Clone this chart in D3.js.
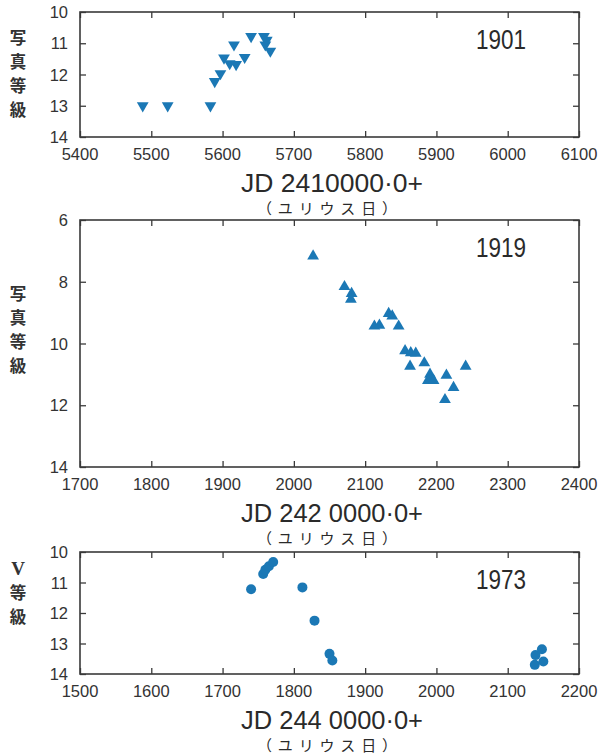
<!DOCTYPE html>
<html><head><meta charset="utf-8">
<script src="https://cdn.jsdelivr.net/npm/d3@7"></script>
<style>
html,body{margin:0;padding:0;background:#fff;}
svg{display:block;}
</style></head>
<body>
<svg id="c" width="598" height="755"></svg>
<script>
// ---- data ----
const jd1901 = [5488,5523,5583,5589,5597,5602,5610,5619,5616,5631,5640,5658,5662,5660,5667];
const mag1901 = [13.0,13.0,13.0,12.22,11.97,11.47,11.65,11.68,11.05,11.45,10.78,10.78,10.9,11.05,11.25];

const jd1919 = [2027,2071,2081,2080,2113,2120,2133,2138,2147,2156,2164,2171,2163,2183,2191,2192,2188,2196,2214,2224,2241,2212];
const mag1919 = [7.17,8.16,8.38,8.57,9.44,9.41,9.03,9.11,9.44,10.24,10.3,10.32,10.74,10.63,11.0,11.17,11.2,11.2,11.03,11.43,10.74,11.82];

const jd1973 = [1740,1757,1760,1765,1771,1812,1829,1850,1854,2139,2148,2138,2150];
const mag1973 = [11.22,10.72,10.58,10.47,10.33,11.16,12.25,13.34,13.56,13.38,13.19,13.7,13.59];

const xTicks1901 = [5400,5500,5600,5700,5800,5900,6000,6100];
const yTicks1901 = [10,11,12,13,14];
const xTicks1919 = [1700,1800,1900,2000,2100,2200,2300,2400];
const yTicks1919 = [6,8,10,12,14];
const xTicks1973 = [1500,1600,1700,1800,1900,2000,2100,2200];
const yTicks1973 = [10,11,12,13,14];

const years = ["1901","1919","1973"];
const xTitles = ["JD 2410000·0+","JD 242 0000·0+","JD 244 0000·0+"];
const xSub = "（ユリウス日）";
const yTitles = [["写","真","等","級"],["写","真","等","級"],["V","等","級"]];

// ---- drawing ----
const svg = d3.select("#c");
const blue = "#1b78b5";
const frameColor = "#3a3a3a";
const txtColor = "#333";

const panels = [
  {jd:jd1901, mag:mag1901, xt:xTicks1901, yt:yTicks1901, top:12, bottom:137, marker:"down", yLabelTop:37},
  {jd:jd1919, mag:mag1919, xt:xTicks1919, yt:yTicks1919, top:220, bottom:467, marker:"up", yLabelTop:293},
  {jd:jd1973, mag:mag1973, xt:xTicks1973, yt:yTicks1973, top:552, bottom:674, marker:"circle", yLabelTop:568}
];
const left = 80, right = 579;

panels.forEach((p, i) => {
  const x = d3.scaleLinear().domain([p.xt[0], p.xt[p.xt.length-1]]).range([left, right]);
  const y = d3.scaleLinear().domain([p.yt[0], p.yt[p.yt.length-1]]).range([p.top, p.bottom]);
  const g = svg.append("g");

  // inward ticks on all sides (no labels), via axes
  const tk = 6;
  g.append("g").attr("transform", `translate(0,${p.bottom})`)
    .call(d3.axisTop(x).tickValues(p.xt).tickSize(tk).tickFormat(""));
  g.append("g").attr("transform", `translate(0,${p.top})`)
    .call(d3.axisBottom(x).tickValues(p.xt).tickSize(tk).tickFormat(""));
  g.append("g").attr("transform", `translate(${left},0)`)
    .call(d3.axisRight(y).tickValues(p.yt).tickSize(tk).tickFormat(""));
  g.append("g").attr("transform", `translate(${right},0)`)
    .call(d3.axisLeft(y).tickValues(p.yt).tickSize(tk).tickFormat(""));
  g.selectAll(".domain").remove();
  g.selectAll(".tick line").attr("stroke", frameColor).attr("stroke-width", 1.3);

  // frame
  g.append("rect").attr("x", left).attr("y", p.top)
    .attr("width", right-left).attr("height", p.bottom-p.top)
    .attr("fill", "none").attr("stroke", frameColor).attr("stroke-width", 1.6);

  // tick labels
  g.selectAll(".xl").data(p.xt).join("text")
    .attr("x", d => x(d)).attr("y", p.bottom + 23)
    .attr("text-anchor", "middle")
    .attr("font-family", "Liberation Sans, Arial, sans-serif")
    .attr("font-size", 16.5).attr("fill", txtColor).text(d => d);
  g.selectAll(".yl").data(p.yt).join("text")
    .attr("x", left - 12).attr("y", d => y(d) + 6)
    .attr("text-anchor", "end")
    .attr("font-family", "Liberation Sans, Arial, sans-serif")
    .attr("font-size", 16.5).attr("fill", txtColor).text(d => d);

  // year label
  g.append("text").attr("x", 501).attr("y", p.top + 37)
    .attr("text-anchor", "middle")
    .attr("font-family", "Liberation Sans, Arial, sans-serif")
    .attr("font-size", 27).attr("fill", "#2a2a2a")
    .attr("textLength", 50).attr("lengthAdjust", "spacingAndGlyphs")
    .text(years[i]);

  // x titles
  const tY = p.bottom + 55;
  g.append("text").attr("x", 332).attr("y", tY)
    .attr("text-anchor", "middle")
    .attr("font-family", "Liberation Sans, Arial, sans-serif")
    .attr("font-size", 25).attr("fill", "#2a2a2a")
    .attr("textLength", 182).attr("lengthAdjust", "spacingAndGlyphs")
    .text(xTitles[i]);
  g.append("text").attr("x", 327).attr("y", tY + 22)
    .attr("text-anchor", "middle")
    .attr("font-family", "Noto Sans CJK JP, sans-serif")
    .attr("font-size", 15).attr("fill", "#2a2a2a")
    .attr("textLength", 140).attr("lengthAdjust", "spacing")
    .text(xSub);

  // y title (stacked)
  g.selectAll(".yt").data(yTitles[i]).join("text")
    .attr("x", 18).attr("y", (d, k) => p.yLabelTop + 7 + k * 24)
    .attr("text-anchor", "middle")
    .attr("font-family", d => d === "V" ? "Liberation Serif, serif" : "Noto Sans CJK JP, sans-serif")
    .attr("font-weight", 700)
    .attr("font-size", d => d === "V" ? 19 : 16.5).attr("fill", "#333").text(d => d);

  // markers
  const pts = p.jd.map((d, k) => [d, p.mag[k]]);
  if (p.marker === "circle") {
    g.selectAll(".pt").data(pts).join("circle")
      .attr("cx", d => x(d[0])).attr("cy", d => y(d[1])).attr("r", 5)
      .attr("fill", blue);
  } else {
    const sym = d3.symbol().type(d3.symbolTriangle).size(60);
    const rot = p.marker === "down" ? 180 : 0;
    g.selectAll(".pt").data(pts).join("path")
      .attr("d", sym)
      .attr("transform", d => `translate(${x(d[0])},${y(d[1])}) rotate(${rot})`)
      .attr("fill", blue);
  }
});
</script>
</body></html>
